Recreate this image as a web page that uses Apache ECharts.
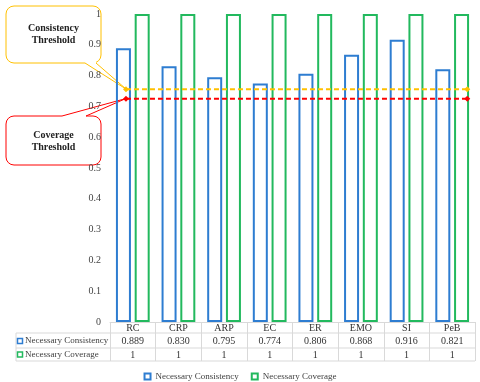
<!DOCTYPE html>
<html>
<head>
<meta charset="utf-8">
<script src="https://cdn.jsdelivr.net/npm/echarts@6/dist/echarts.min.js"></script>
<style>
  html, body { margin: 0; padding: 0; background: #fff; }
  #chart { width: 480px; height: 382px; }
</style>
</head>
<body>
<div id="chart"></div>
<script>
var categories = ['RC', 'CRP', 'ARP', 'EC', 'ER', 'EMO', 'SI', 'PeB'];
var consistency = [0.889, 0.830, 0.795, 0.774, 0.806, 0.868, 0.916, 0.821];
var coverage = [1, 1, 1, 1, 1, 1, 1, 1];
var yTicks = [0, 0.1, 0.2, 0.3, 0.4, 0.5, 0.6, 0.7, 0.8, 0.9, 1];
var consistencyThreshold = 0.756;
var coverageThreshold = 0.725;
var thresholdSpan = [0.35, 7.83];

var serif = '"Liberation Serif", "Times New Roman", serif';
var blue = '#2E7DD1';
var green = '#22B95E';
var gridColor = '#D9D9D9';

var chart = echarts.init(document.getElementById('chart'));

function rowLine(y) {
    return { type: 'line', shape: { x1: 16, y1: y, x2: 475, y2: y }, style: { stroke: gridColor, lineWidth: 1 }, z: 10 };
}

var option = {
    animation: false,
    grid: { left: 110, right: 5, top: 14, bottom: 60 },
    legend: {
        top: 367,
        left: 'center',
        itemWidth: 6,
        itemHeight: 6,
        itemGap: 12,
        icon: 'rect',
        textStyle: { fontFamily: serif, fontSize: 9, color: '#404040' },
        data: ['Necessary Consistency', 'Necessary Coverage']
    },
    xAxis: [
        {
            type: 'category',
            data: categories,
            axisLine: { lineStyle: { color: gridColor } },
            axisTick: { show: true, length: 39, lineStyle: { color: gridColor } },
            axisLabel: {
                margin: 0,
                interval: 0,
                formatter: function (value, idx) {
                    return '{h|' + value + '}\n{a|' + consistency[idx].toFixed(3) + '}\n{b|' + coverage[idx] + '}';
                },
                rich: {
                    h: { fontFamily: serif, fontSize: 10, color: '#333', lineHeight: 12 },
                    a: { fontFamily: serif, fontSize: 10, color: '#333', lineHeight: 15 },
                    b: { fontFamily: serif, fontSize: 10, color: '#333', lineHeight: 12 }
                }
            }
        },
        { type: 'value', min: 0, max: 8, show: false }
    ],
    yAxis: {
        type: 'value',
        min: 0,
        max: 1,
        interval: 0.1,
        z: 30,
        axisLine: { show: false },
        axisTick: { show: false },
        splitLine: { show: false },
        axisLabel: {
            margin: 9,
            fontFamily: serif,
            fontSize: 10,
            color: '#444',
            formatter: function (v) { return String(+v.toFixed(1)); }
        }
    },
    series: [
        {
            name: 'Necessary Consistency',
            type: 'bar',
            data: consistency,
            barWidth: 15,
            barGap: '25%',
            itemStyle: { color: 'rgba(255,255,255,0)', borderColor: blue, borderWidth: 2 }
        },
        {
            name: 'Necessary Coverage',
            type: 'bar',
            data: coverage,
            barWidth: 15,
            itemStyle: { color: 'rgba(255,255,255,0)', borderColor: green, borderWidth: 2 }
        },
        {
            name: 'consistencyThreshold',
            type: 'line',
            xAxisIndex: 1,
            data: [[thresholdSpan[0], consistencyThreshold], [thresholdSpan[1], consistencyThreshold]],
            symbol: 'diamond',
            symbolSize: 6,
            lineStyle: { color: '#FFC000', width: 2, type: [5, 3] },
            itemStyle: { color: '#FFC000' },
            z: 5
        },
        {
            name: 'coverageThreshold',
            type: 'line',
            xAxisIndex: 1,
            data: [[thresholdSpan[0], coverageThreshold], [thresholdSpan[1], coverageThreshold]],
            symbol: 'diamond',
            symbolSize: 6,
            lineStyle: { color: '#FF0000', width: 2, type: [5, 3] },
            itemStyle: { color: '#FF0000' },
            z: 5
        }
    ],
    graphic: [
        // table borders
        rowLine(333), rowLine(348), rowLine(361),
        { type: 'line', shape: { x1: 16, y1: 333, x2: 16, y2: 361 }, style: { stroke: gridColor, lineWidth: 1 }, z: 10 },
        { type: 'rect', shape: { x: 17.5, y: 338.5, width: 5, height: 5 }, style: { fill: '#fff', stroke: blue, lineWidth: 1.5 }, z: 10 },
        { type: 'text', x: 25, y: 341, style: { text: 'Necessary Consistency', font: '9px ' + serif, fill: '#404040', verticalAlign: 'middle' }, z: 10 },
        { type: 'rect', shape: { x: 17.5, y: 352, width: 5, height: 5 }, style: { fill: '#fff', stroke: green, lineWidth: 1.5 }, z: 10 },
        { type: 'text', x: 25, y: 354.5, style: { text: 'Necessary Coverage', font: '9px ' + serif, fill: '#404040', verticalAlign: 'middle' }, z: 10 },
        // consistency callout
        { type: 'rect', shape: { x: 6, y: 6, width: 95, height: 57, r: 8 }, style: { fill: '#fff', stroke: '#FFC000', lineWidth: 1 }, z: 0 },
        { type: 'polygon', shape: { points: [[85, 62], [96, 62], [96, 64], [85, 64]] }, style: { fill: '#fff' }, z: 1 },
        { type: 'polyline', shape: { points: [[85, 63], [126, 89], [96, 63]] }, style: { stroke: '#FFC000', lineWidth: 1, fill: null }, z: 1 },
        { type: 'text', x: 53.5, y: 34.5, style: { text: 'Consistency\nThreshold', font: 'bold 10px ' + serif, fill: '#222', align: 'center', verticalAlign: 'middle', lineHeight: 12 }, z: 1 },
        // coverage callout
        { type: 'rect', shape: { x: 6, y: 116, width: 95, height: 49, r: 8 }, style: { fill: '#fff', stroke: '#FF0000', lineWidth: 1 }, z: 0 },
        { type: 'polygon', shape: { points: [[62, 115], [86, 115], [86, 117], [62, 117]] }, style: { fill: '#fff' }, z: 1 },
        { type: 'polyline', shape: { points: [[62, 116], [126, 98.5], [86, 116]] }, style: { stroke: '#FF0000', lineWidth: 1, fill: null }, z: 1 },
        { type: 'text', x: 53.5, y: 141, style: { text: 'Coverage\nThreshold', font: 'bold 10px ' + serif, fill: '#222', align: 'center', verticalAlign: 'middle', lineHeight: 12 }, z: 1 }
    ]
};

chart.setOption(option);
</script>
</body>
</html>
